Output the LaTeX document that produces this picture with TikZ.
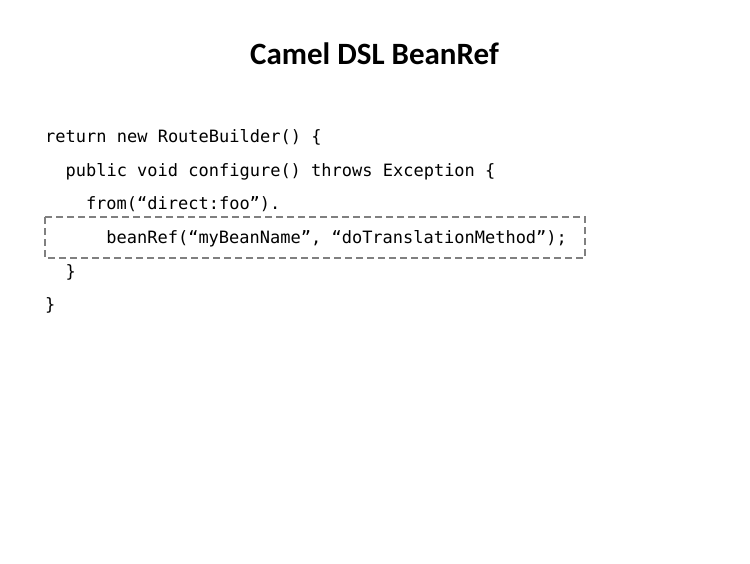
\documentclass[tikz,border=0pt]{standalone}
\usepackage{fontspec}
\newfontfamily\codefont{DejaVu Sans Mono}
\newfontfamily\titlefont{Carlito}
\begin{document}
\begin{tikzpicture}
        [x=1pt,y=-1pt,every node/.style={anchor=base west, inner sep=0pt, font=\codefont\fontsize{17}{20}\selectfont},
         codebox/.style={draw=black!50, line width=1.5pt, dash pattern=on 7pt off 4pt}]
      \useasboundingbox (0,0) rectangle (750,563);
      \node[anchor=base, font=\titlefont\bfseries\fontsize{31}{36}\selectfont] (title) at (374.5,64) {Camel DSL BeanRef};

      \node (l1) at (45,142) {return new RouteBuilder() \{};
      \node (l2) at (65.4,176) {public void configure() throws Exception \{};
      \node (l3) at (85.8,209.5) {from(“direct:foo”).};
      \node (l4) at (106.2,243.5) {beanRef(“myBeanName”, “doTranslationMethod”);};
      \node (l5) at (65.4,277) {\}};
      \node (l6) at (45,310.5) {\}};

      \draw[codebox] (45,217) rectangle (585,258);
    \end{tikzpicture}
\end{document}
